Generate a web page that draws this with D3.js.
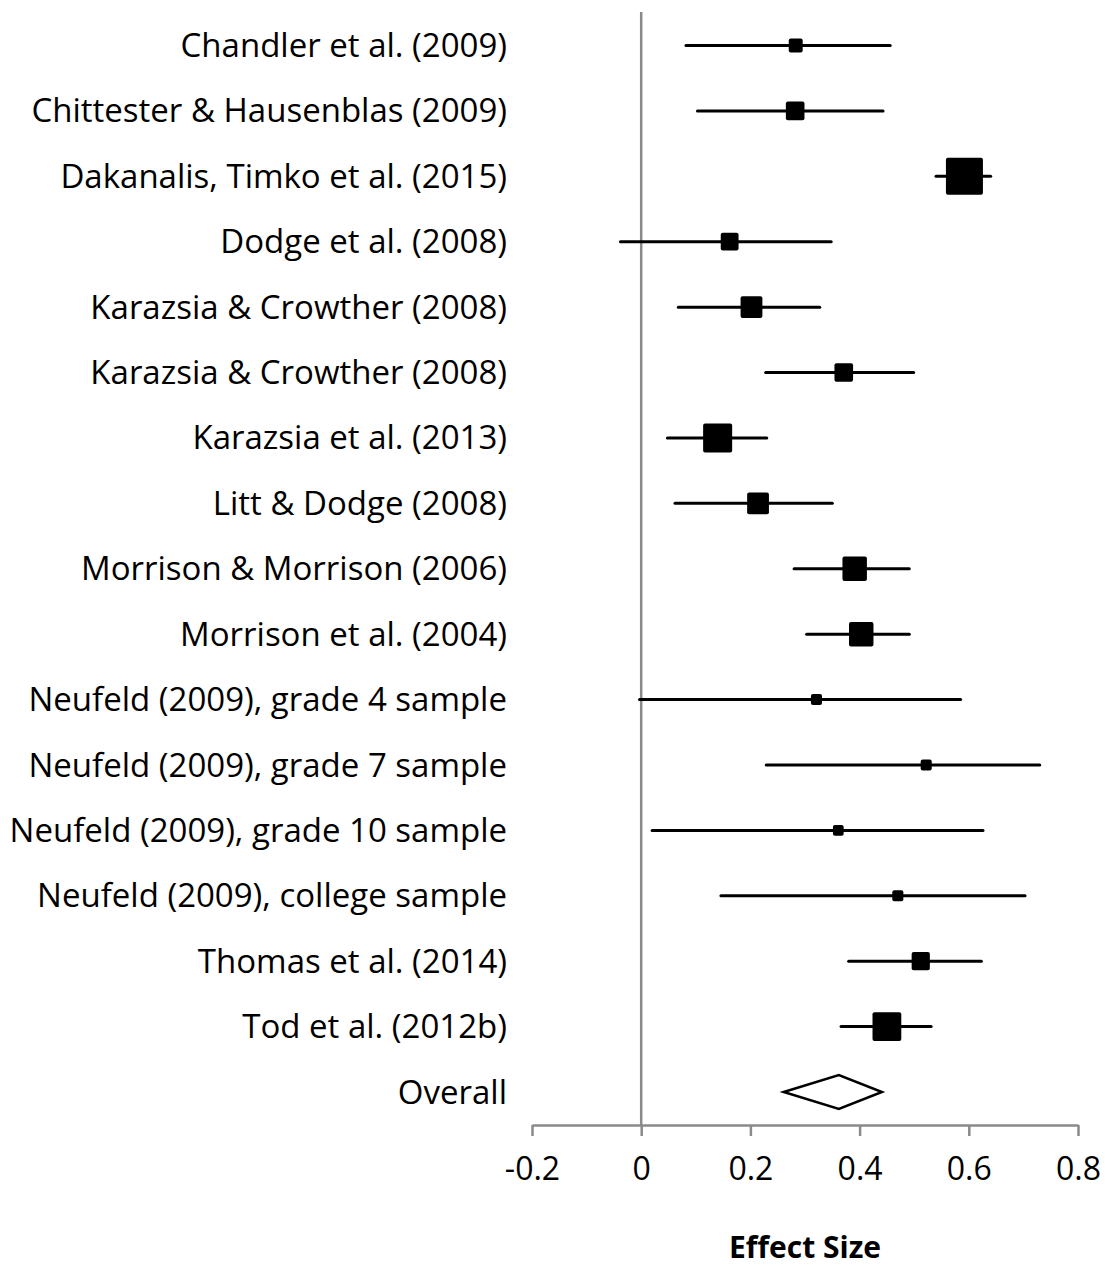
<!DOCTYPE html>
<html>
<head>
<meta charset="utf-8">
<script src="https://cdn.jsdelivr.net/npm/d3@7"></script>
<style>
  body { margin: 0; background: #fff; }
  svg { display: block; }
</style>
</head>
<body>
<div id="chart"></div>
<script>
// study labels, top to bottom
const studies = [
  "Chandler et al. (2009)",
  "Chittester & Hausenblas (2009)",
  "Dakanalis, Timko et al. (2015)",
  "Dodge et al. (2008)",
  "Karazsia & Crowther (2008)",
  "Karazsia & Crowther (2008)",
  "Karazsia et al. (2013)",
  "Litt & Dodge (2008)",
  "Morrison & Morrison (2006)",
  "Morrison et al. (2004)",
  "Neufeld (2009), grade 4 sample",
  "Neufeld (2009), grade 7 sample",
  "Neufeld (2009), grade 10 sample",
  "Neufeld (2009), college sample",
  "Thomas et al. (2014)",
  "Tod et al. (2012b)"
];
const effects = [0.283, 0.282, 0.592, 0.162, 0.202, 0.371, 0.140, 0.214, 0.391, 0.403, 0.321, 0.522, 0.361, 0.470, 0.512, 0.450];
const lower   = [0.082, 0.103, 0.540, -0.038, 0.068, 0.228, 0.048, 0.062, 0.280, 0.303, -0.003, 0.229, 0.020, 0.146, 0.380, 0.366];
const upper   = [0.456, 0.443, 0.640, 0.348, 0.327, 0.499, 0.230, 0.350, 0.491, 0.491, 0.585, 0.730, 0.626, 0.703, 0.623, 0.531];
// relative study weights (%), shown as marker area
const weights = [2.7, 4.8, 19.0, 4.4, 6.6, 4.8, 11.7, 6.6, 8.3, 8.3, 1.7, 1.7, 1.6, 1.7, 4.6, 11.5];

const overallLabel = "Overall";
const overallEffect = 0.362;
const overallLower = 0.261;
const overallUpper = 0.441;

const xTicks = [-0.2, 0, 0.2, 0.4, 0.6, 0.8];
const xTitle = "Effect Size";

const width = 1105;
const height = 1268;
const font = "'Open Sans', sans-serif";

const svg = d3
  .select("#chart")
  .append("svg")
  .attr("width", width)
  .attr("height", height);

const rows = studies.map((d, i) => i).concat(["overall"]);

const x = d3.scaleLinear().domain([-0.2, 0.8]).range([532, 1078]);
const y = d3.scalePoint().domain(rows).range([45.5, 1092]);
const size = d3.scaleSqrt().domain([0, 19]).range([0, 37]);

const axisY = 1125;

// zero line
svg
  .append("line")
  .attr("x1", x(0))
  .attr("x2", x(0))
  .attr("y1", 12)
  .attr("y2", axisY)
  .attr("stroke", "#8a8a8a")
  .attr("stroke-width", 2.5);

// x axis
const axis = svg
  .append("g")
  .attr("transform", `translate(0,${axisY})`)
  .call(
    d3
      .axisBottom(x)
      .tickValues(xTicks)
      .tickSize(11)
      .tickSizeOuter(0)
      .tickPadding(21)
      .tickFormat((d) => (d === 0 ? "0" : String(d)))
  );

axis.select(".domain").attr("stroke", "#8a8a8a").attr("stroke-width", 2.5);
axis.selectAll(".tick line").attr("stroke", "#8a8a8a").attr("stroke-width", 2.5);
axis
  .selectAll(".tick text")
  .attr("fill", "#000")
  .style("font-family", font)
  .style("font-size", "32px");

// axis title
svg
  .append("text")
  .attr("x", x(0.3))
  .attr("y", 1258)
  .attr("text-anchor", "middle")
  .style("font-family", font)
  .style("font-size", "30px")
  .style("font-weight", "bold")
  .text(xTitle);

// study labels
svg
  .selectAll(".label")
  .data(rows)
  .enter()
  .append("text")
  .attr("class", "label")
  .attr("x", 507)
  .attr("y", (d) => y(d))
  .attr("dy", "0.35em")
  .attr("text-anchor", "end")
  .style("font-family", font)
  .style("font-size", "33px")
  .text((d) => (d === "overall" ? overallLabel : studies[d]));

// confidence intervals
const idx = studies.map((d, i) => i);

svg
  .selectAll(".ci")
  .data(idx)
  .enter()
  .append("line")
  .attr("class", "ci")
  .attr("x1", (i) => x(lower[i]))
  .attr("x2", (i) => x(upper[i]))
  .attr("y1", (i) => y(i))
  .attr("y2", (i) => y(i))
  .attr("stroke", "#000")
  .attr("stroke-width", 3)
  .attr("stroke-linecap", "round");

// effect markers
svg
  .selectAll(".marker")
  .data(idx)
  .enter()
  .append("rect")
  .attr("class", "marker")
  .attr("x", (i) => x(effects[i]) - size(weights[i]) / 2)
  .attr("y", (i) => y(i) - size(weights[i]) / 2)
  .attr("width", (i) => size(weights[i]))
  .attr("height", (i) => size(weights[i]))
  .attr("rx", 2)
  .attr("fill", "#000");

// overall diamond
const oy = y("overall");
const dh = 17;
svg
  .append("path")
  .attr(
    "d",
    `M${x(overallLower)},${oy} L${x(overallEffect)},${oy - dh} L${x(overallUpper)},${oy} L${x(overallEffect)},${oy + dh} Z`
  )
  .attr("fill", "#fff")
  .attr("stroke", "#000")
  .attr("stroke-width", 2.5)
  .attr("stroke-linejoin", "miter");
</script>
</body>
</html>
